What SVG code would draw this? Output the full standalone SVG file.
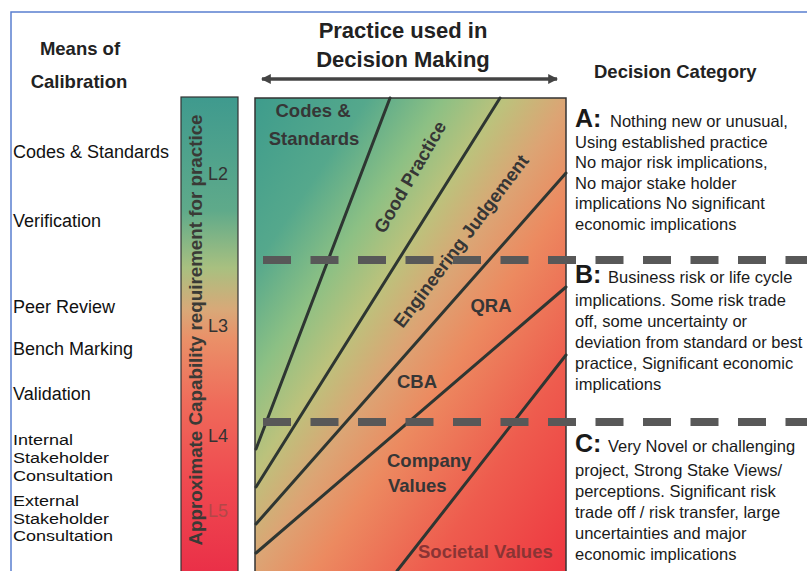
<svg xmlns="http://www.w3.org/2000/svg" width="807" height="571" viewBox="0 0 807 571">
<defs>
<linearGradient id="gBar" x1="0" y1="97" x2="0" y2="571" gradientUnits="userSpaceOnUse">
<stop offset="0" stop-color="#3f9a8e"/>
<stop offset="0.24" stop-color="#5faa8a"/>
<stop offset="0.36" stop-color="#a8c080"/>
<stop offset="0.45" stop-color="#d9a878"/>
<stop offset="0.51" stop-color="#ea9068"/>
<stop offset="0.65" stop-color="#ef6a5a"/>
<stop offset="0.81" stop-color="#ef4a50"/>
<stop offset="1" stop-color="#ea3048"/>
</linearGradient>
<linearGradient id="gChart" x1="255" y1="98" x2="688" y2="389" gradientUnits="userSpaceOnUse">
<stop offset="0" stop-color="#3e9c8c"/>
<stop offset="0.18" stop-color="#55a88c"/>
<stop offset="0.3" stop-color="#8cc084"/>
<stop offset="0.4" stop-color="#bcc27c"/>
<stop offset="0.5" stop-color="#dca474"/>
<stop offset="0.6" stop-color="#ec8a60"/>
<stop offset="0.78" stop-color="#ee5c4e"/>
<stop offset="1" stop-color="#ee3640"/>
</linearGradient>
<marker id="ah" viewBox="0 0 10 10" refX="9" refY="5" markerWidth="3.2" markerHeight="2.8" orient="auto-start-reverse" markerUnits="strokeWidth">
<path d="M0,0 L10,5 L0,10 z" fill="#444"/>
</marker>
<style>
.lt{font-family:"Liberation Sans",Arial,sans-serif;font-size:18px;fill:#111}
.ls{font-family:"Liberation Sans",Arial,sans-serif;font-size:15px;fill:#111}
.hd{font-family:"Liberation Sans",Arial,sans-serif;font-weight:bold;font-size:18.5px;fill:#222}
.ttl{font-family:"Liberation Sans",Arial,sans-serif;font-weight:bold;font-size:22px;fill:#222;text-anchor:middle}
.cl{font-family:"Liberation Sans",Arial,sans-serif;font-weight:bold;font-size:18.5px;fill:#363636}
.rt{font-family:"Liberation Sans",Arial,sans-serif;font-size:16.5px;fill:#1a1a1a}
.big{font-family:"Liberation Sans",Arial,sans-serif;font-weight:bold;font-size:25px;fill:#1a1a1a}
.lv{font-family:"Liberation Sans",Arial,sans-serif;font-size:18px;fill:#333}
.diag{stroke:#2e3632;stroke-width:3;fill:none;stroke-linecap:round}
.dash{stroke:#585858;stroke-width:8;stroke-dasharray:28 19.5;fill:none}
</style>
</defs>
<rect x="0" y="0" width="807" height="571" fill="#ffffff"/>
<path d="M11,571 L11,12 L807,12" fill="none" stroke="#5a7fd0" stroke-width="1.5"/>

<g id="title">
<text class="ttl" x="403" y="38">Practice used in</text>
<text class="ttl" x="403" y="67">Decision Making</text>
<line x1="262" y1="79" x2="557" y2="79" stroke="#444" stroke-width="3.5" marker-start="url(#ah)" marker-end="url(#ah)"/>
</g>

<g id="means-header">
<text class="hd" x="80" y="55" text-anchor="middle">Means of</text>
<text class="hd" x="79" y="88" text-anchor="middle">Calibration</text>
</g>
<g id="category-header">
<text class="hd" x="594" y="78">Decision Category</text>
</g>

<g id="means-list">
<text class="lt" x="13" y="158">Codes &amp; Standards</text>
<text class="lt" x="13" y="227">Verification</text>
<text class="lt" x="13" y="313">Peer Review</text>
<text class="lt" x="13" y="355">Bench Marking</text>
<text class="lt" x="13" y="400">Validation</text>
<text class="ls" transform="translate(13,445) scale(1.2,1)">Internal</text>
<text class="ls" transform="translate(13,463) scale(1.2,1)">Stakeholder</text>
<text class="ls" transform="translate(13,480.5) scale(1.2,1)">Consultation</text>
<text class="ls" transform="translate(13,506) scale(1.2,1)">External</text>
<text class="ls" transform="translate(13,523.5) scale(1.2,1)">Stakeholder</text>
<text class="ls" transform="translate(13,541) scale(1.2,1)">Consultation</text>
</g>

<g id="capability-bar">
<rect x="181" y="97" width="57" height="480" fill="url(#gBar)" stroke="#333" stroke-width="1.2"/>
<text class="cl" x="202" y="330" transform="rotate(-90 202 330)" text-anchor="middle" style="font-size:18.8px;fill:#3a3a36">Approximate Capability requirement for practice</text>
<text class="lv" x="208" y="180">L2</text>
<text class="lv" x="208" y="332">L3</text>
<text class="lv" x="208" y="442">L4</text>
<text class="lv" x="208" y="517" style="fill:#b24848">L5</text>
</g>

<g id="practice-chart">
<rect x="255" y="98" width="311" height="480" fill="url(#gChart)" stroke="#333" stroke-width="1.5"/>
</g>

<g id="connectors">
<line class="diag" x1="390" y1="98" x2="256" y2="449"/>
<line class="diag" x1="500" y1="98" x2="256" y2="487"/>
<line class="diag" x1="566" y1="173" x2="256" y2="524"/>
<line class="diag" x1="566" y1="287" x2="256" y2="553"/>
<line class="diag" x1="566" y1="355" x2="397" y2="571"/>
</g>

<g id="chart-labels">
<text class="cl" x="313" y="117" text-anchor="middle">Codes &amp;</text>
<text class="cl" x="314" y="145" text-anchor="middle">Standards</text>
<text class="cl" x="410" y="177" text-anchor="middle" dominant-baseline="central" transform="rotate(-60 410 177)">Good Practice</text>
<text class="cl" x="461" y="241" text-anchor="middle" dominant-baseline="central" transform="rotate(-53 461 241)">Engineering Judgement</text>
<text class="cl" x="491" y="312" text-anchor="middle">QRA</text>
<text class="cl" x="417" y="388" text-anchor="middle">CBA</text>
<text class="cl" x="387" y="467">Company</text>
<text class="cl" x="388" y="492">Values</text>
<text class="cl" x="418" y="558" style="fill:#8a3434">Societal Values</text>
</g>

<g id="dividers">
<line class="dash" x1="263" y1="260" x2="807" y2="260"/>
<line class="dash" x1="263" y1="422" x2="807" y2="422"/>
</g>

<g id="category-A">
<text class="big" x="575" y="127">A:</text>
<text class="rt" x="610" y="127">Nothing new or unusual,</text>
<text class="rt" x="575" y="148">Using established practice</text>
<text class="rt" x="575" y="168">No major risk implications,</text>
<text class="rt" x="575" y="189">No major stake holder</text>
<text class="rt" x="575" y="209">implications No significant</text>
<text class="rt" x="575" y="230">economic implications</text>
</g>
<g id="category-B">
<text class="big" x="575" y="283">B:</text>
<text class="rt" x="608" y="283">Business risk or life cycle</text>
<text class="rt" x="575" y="306">implications. Some risk trade</text>
<text class="rt" x="575" y="327">off, some uncertainty or</text>
<text class="rt" x="575" y="348">deviation from standard or best</text>
<text class="rt" x="575" y="369">practice, Significant economic</text>
<text class="rt" x="575" y="390">implications</text>
</g>
<g id="category-C">
<text class="big" x="575" y="452">C:</text>
<text class="rt" x="608" y="452">Very Novel or challenging</text>
<text class="rt" x="575" y="476">project, Strong Stake Views/</text>
<text class="rt" x="575" y="497">perceptions. Significant risk</text>
<text class="rt" x="575" y="518">trade off / risk transfer, large</text>
<text class="rt" x="575" y="539">uncertainties and major</text>
<text class="rt" x="575" y="560">economic implications</text>
</g>
</svg>
